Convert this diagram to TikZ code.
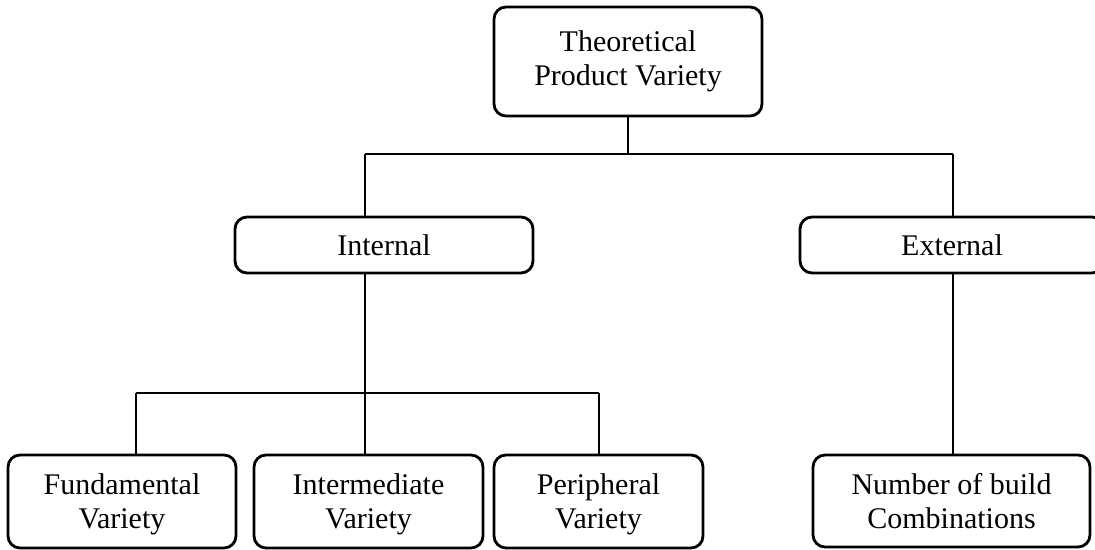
\documentclass[tikz,border=0pt]{standalone}
\usepackage{fontspec}
\setmainfont{Liberation Serif}
\begin{document}
\begin{tikzpicture}[x=0.5pt,y=-0.5pt,
  box/.style={draw=black, line width=1.4pt, rounded corners=6pt, fill=white,
    inner sep=0pt, align=center, font=\fontsize{15}{17}\selectfont},
  link/.style={draw=black, line width=1.4pt}]
\useasboundingbox (0,0) rectangle (1095,550);

% boxes
\node[box, minimum width=134pt, minimum height=54.5pt] (top) at (628,61.5) {Theoretical\\Product Variety};
\node[box, minimum width=149pt, minimum height=28pt] (int) at (384,245) {Internal};
\node[box, minimum width=152pt, minimum height=28pt] (ext) at (952,245) {External};
\node[box, minimum width=114pt, minimum height=46.5pt] (fund) at (122,501.5) {\rule{0pt}{13pt}Fundamental\\Variety};
\node[box, minimum width=114.5pt, minimum height=46.5pt] (mid) at (368.5,501.5) {\rule{0pt}{13pt}Intermediate\\Variety};
\node[box, minimum width=104.5pt, minimum height=46.5pt] (peri) at (598.5,501.5) {\rule{0pt}{13pt}Peripheral\\Variety};
\node[box, minimum width=138.5pt, minimum height=46pt] (num) at (951.5,501) {Number of build\\Combinations};

% junction points of the tree
\coordinate (j1) at (365,154);
\coordinate (j2) at (953,154);
\coordinate (k1) at (136,393);
\coordinate (k3) at (599,393);

% upper level
\draw[link] (top.south) -- (top.south |- j1);
\draw[link] (j1) -- (j2);
\draw[link] (j1) -- (j1 |- int.north);
\draw[link] (j2) -- (j2 |- ext.north);

% lower level
\draw[link] (int.south -| j1) -- (j1 |- mid.north);
\draw[link] (k1) -- (k3);
\draw[link] (k1) -- (k1 |- fund.north);
\draw[link] (k3) -- (k3 |- peri.north);
\draw[link] (ext.south -| j2) -- (j2 |- num.north);
\end{tikzpicture}
\end{document}
